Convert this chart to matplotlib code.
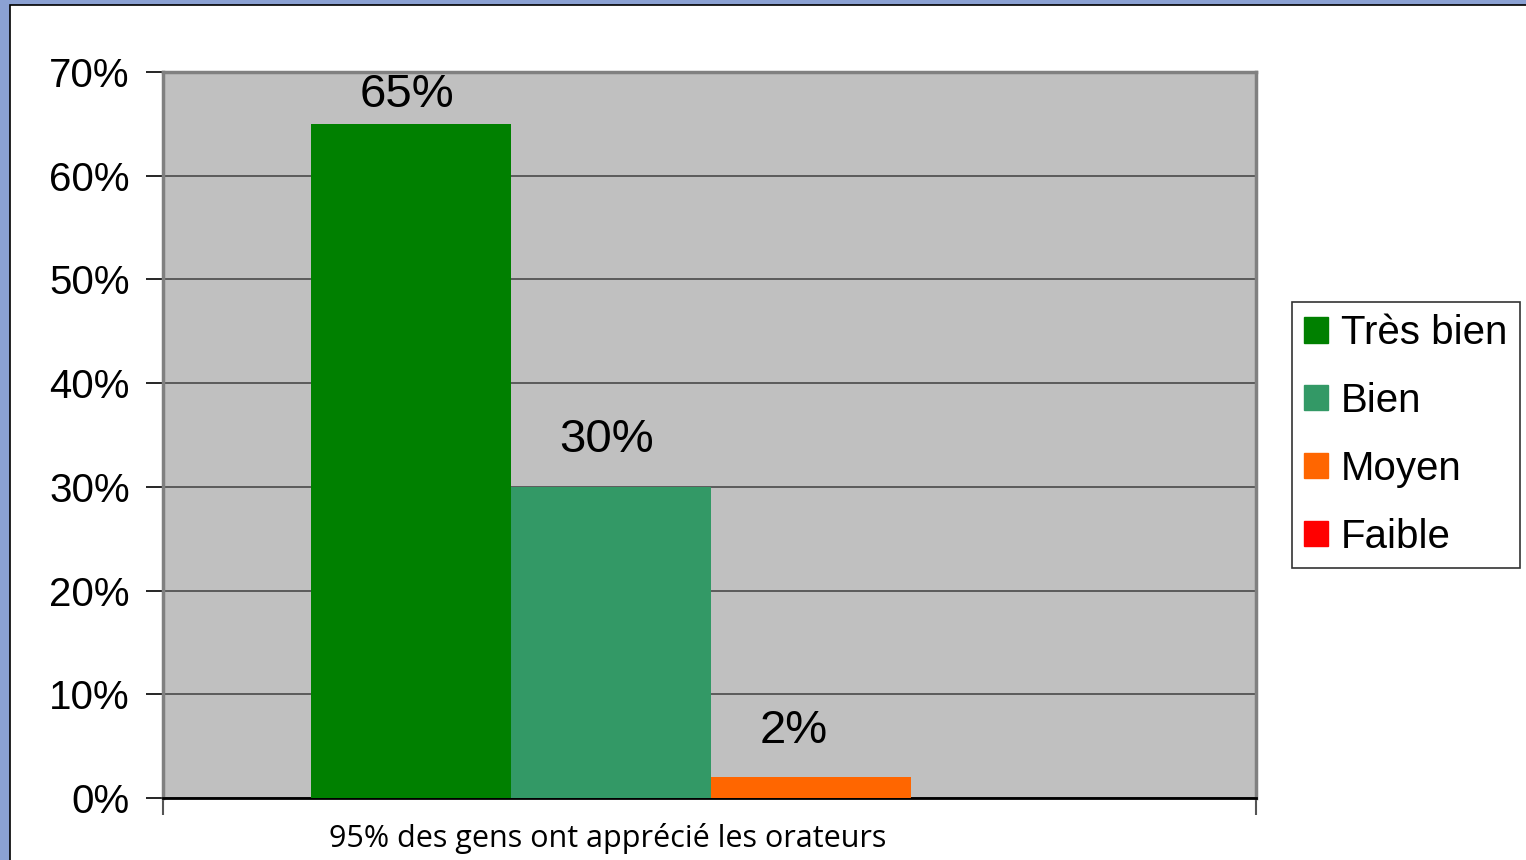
import matplotlib.pyplot as plt
from matplotlib.patches import Rectangle, Patch
from matplotlib.ticker import FuncFormatter

categories = ['Très bien', 'Bien', 'Moyen', 'Faible']
values = [65, 30, 2, 0]
colors = ['#008000', '#339966', '#FF6600', '#FF0000']
group_label = '95% des gens ont apprécié les orateurs'
yticks = [0, 10, 20, 30, 40, 50, 60, 70]

plt.rcParams['font.family'] = ['Liberation Sans', 'DejaVu Sans']

fig = plt.figure(figsize=(15.26, 8.6), dpi=100, facecolor='#8BA1D3')
# white slide area
fig.patches.append(Rectangle((10 / 1526, -0.01), 1.02, (860 - 5) / 860 + 0.01,
                             transform=fig.transFigure, facecolor='white',
                             edgecolor='black', linewidth=1.2, zorder=-5))

ax = fig.add_axes([163 / 1526, 1 - 798 / 860, (1256 - 163) / 1526, (798 - 72) / 860])
ax.set_facecolor('#C0C0C0')

bar_w = 0.183
start = 0.135
for i, (cat, v, c) in enumerate(zip(categories, values, colors)):
    left = start + bar_w * i
    ax.bar(left, v, width=bar_w, align='edge', color=c, zorder=3, label=cat)
    if v > 0:
        # labels sit above the bar, kept inside the plot area like Excel does
        ax.annotate(f'{v}%', (left, min(v + 4.5, 67.8)), xytext=(35, 0),
                    textcoords='offset points', ha='left', va='center',
                    fontsize=34, zorder=4)

ax.set_xlim(0, 1)
ax.set_ylim(0, 70)
ax.set_yticks(yticks)
ax.yaxis.set_major_formatter(FuncFormatter(lambda v, p: f'{v:.0f}%'))
ax.tick_params(axis='y', labelsize=29, length=12, width=1.2, color='black', pad=12)
ax.set_xticks([0, 1])
ax.set_xticklabels(['', ''])
ax.tick_params(axis='x', length=12, width=1.5, color='#555555', direction='out')
ax.grid(axis='y', color='#404040', linewidth=1.1, zorder=1)

for side in ['top', 'left', 'right']:
    ax.spines[side].set_color('#808080')
    ax.spines[side].set_linewidth(2.5)
ax.spines['bottom'].set_color('black')
ax.spines['bottom'].set_linewidth(2)

fig.text(608 / 1526, 1 - 839 / 860, group_label, ha='center', va='center',
         fontsize=22, family=['Open Sans', 'DejaVu Sans'])

handles = [Patch(facecolor=c, edgecolor=c, label=cat) for cat, c in zip(categories, colors)]
leg = fig.legend(handles=handles, loc='upper left',
                 bbox_to_anchor=(1292 / 1526, 1 - 302 / 860),
                 fontsize=29, frameon=True, fancybox=False, edgecolor='black',
                 handlelength=0.6, handleheight=0.6, handletextpad=0.32,
                 labelspacing=0.74, borderpad=0.3, borderaxespad=0)
leg.get_frame().set_linewidth(1.2)

fig.savefig('out.png', dpi=100, facecolor=fig.get_facecolor())
